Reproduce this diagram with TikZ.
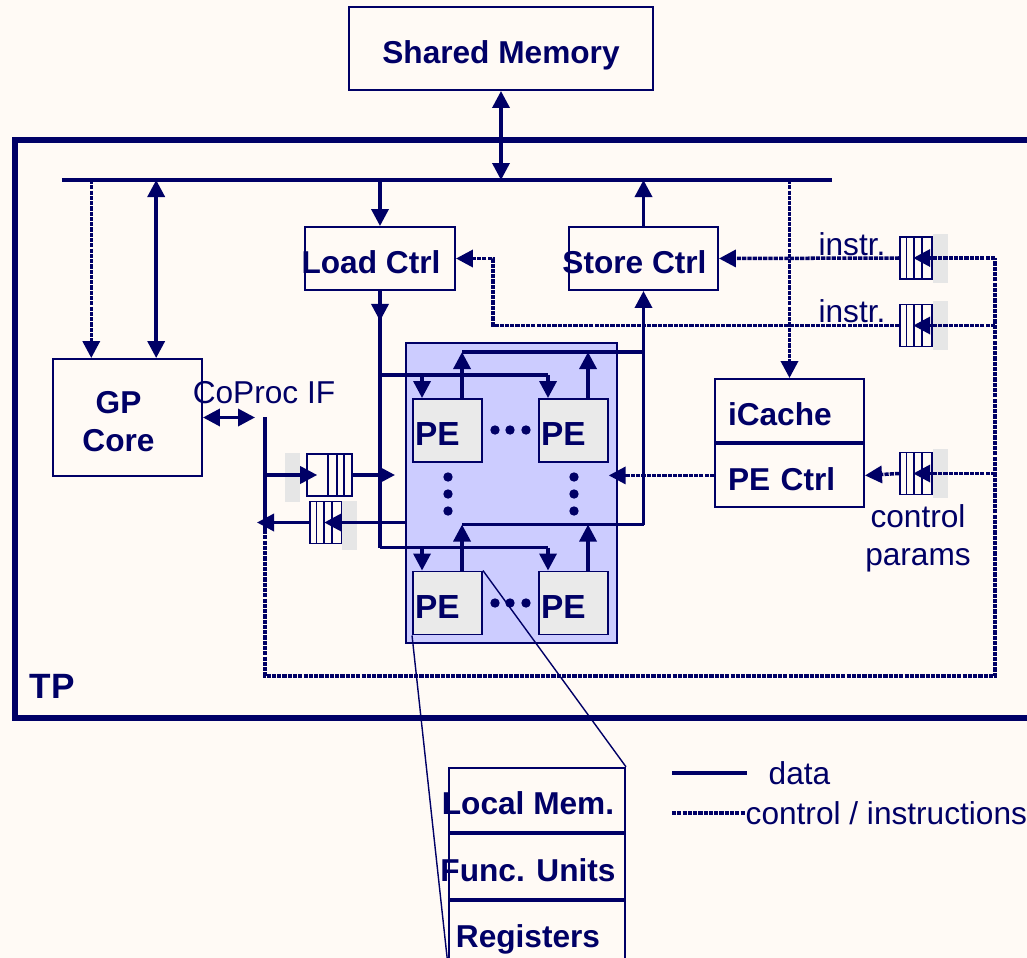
\documentclass[tikz,border=0pt]{standalone}
\usepackage{fontspec}
\setmainfont{Liberation Sans}
\usetikzlibrary{positioning, arrows.meta, calc, decorations.markings}
\definecolor{navy}{RGB}{0,0,102}
\definecolor{paper}{RGB}{255,250,245}
\definecolor{lav}{RGB}{204,204,255}
\definecolor{peg}{RGB}{234,234,234}
\definecolor{holdg}{RGB}{230,230,230}
\newcommand\ninept{\fontsize{9}{10.8}\selectfont}
\tikzset{
  box/.style      ={draw=navy, line width=0.55pt, fill=paper, text=navy,
                    font=\ninept\bfseries, inner sep=0pt,
                    text height=8.4pt, text depth=0pt,
                    minimum width=1.49cm, minimum height=0.63cm},
  shift text/.style={execute at begin node=\hspace*{-1.8mm}},
  pe/.style       ={draw=navy, line width=0.55pt, fill=peg, text=navy,
                    font=\fontsize{9.5}{11}\selectfont\bfseries,
                    inner xsep=0.2mm, inner ysep=0pt, text width=0.65cm,
                    text height=8.6pt, text depth=0pt,
                    align=left, minimum height=0.63cm},
  peblock/.style  ={draw=navy, line width=0.4pt, fill=lav, inner sep=0pt,
                    minimum width=2.11cm, minimum height=3.0cm},
  fifo/.style     ={draw=navy, line width=0.45pt, fill=paper, inner sep=0pt,
                    minimum width=0.32cm, minimum height=0.42cm},
  fifoL/.style    ={fifo, path picture={
                      \foreach \d in {0.065,0.14,0.22}
                        \draw[navy, line width=0.45pt]
                          ([xshift=\d cm]path picture bounding box.south west) --
                          ([xshift=\d cm]path picture bounding box.north west);}},
  fifoR/.style    ={fifo, minimum width=0.45cm, path picture={
                      \foreach \d in {0.08,0.15,0.24}
                        \draw[navy, line width=0.45pt]
                          ([xshift=-\d cm]path picture bounding box.south east) --
                          ([xshift=-\d cm]path picture bounding box.north east);}},
  hold/.style     ={fill=holdg, inner sep=0pt,
                    minimum width=0.15cm, minimum height=0.49cm},
  tag/.style      ={text=navy, font=\ninept, inner sep=0pt},
  data/.style     ={draw=navy, line width=1.0pt},
  ctrl/.style     ={data, dash pattern=on 1.2pt off 0.3pt},
  frame/.style    ={draw=navy, line width=1.7pt},
  zoomline/.style ={draw=navy, line width=0.4pt},
  mark head/.style={postaction={decorate, decoration={markings,
                      mark=at position 0.3cm with
                      {\arrow{Triangle[length=1.7mm, width=1.7mm]}}}}},
}

\begin{document}
\begin{tikzpicture}[>={Triangle[length=1.7mm, width=1.7mm]}, line join=miter]
\useasboundingbox (0,0) rectangle (10.27,-9.58);
\fill[paper] (0,0) rectangle (10.27,-9.58);
\clip (0,0) rectangle (10.27,-9.58);

% --- TP frame and bus ---
\draw[frame] (10.4,-1.40) -- (0.15,-1.40) -- (0.15,-7.18) -- (10.4,-7.18);
\node[tag, font=\fontsize{10}{12}\selectfont\bfseries] (tp) at (0.52,-6.86) {TP};
\coordinate (busW) at (0.62,-1.80);
\coordinate (busE) at (8.32,-1.80);
\coordinate (cpTop) at (2.65,-4.17);
\coordinate (cpMid) at (2.65,-5.30);
\coordinate (cpBot) at (2.65,-6.76);
\coordinate (rvTop) at (9.95,-2.58);
\coordinate (rvBot) at (9.95,-6.76);
\coordinate (lcTurn) at (4.93,-3.0);
\coordinate (ldIn) at (3.95,-4.75);

% --- boxes ---
\node[box, minimum width=3.04cm, minimum height=0.83cm] (mem) at (5.01,-0.485) {Shared Memory};
\node[box, minimum height=1.17cm, align=center, text height=, text depth=]
  (gp) at (1.275,-4.175)
  {\hspace*{-1.8mm}\rule{0pt}{3.1mm}GP\\\hspace*{-1.8mm}Core};
\node[tag] (cpif) at (2.64,-3.93) {CoProc IF};
\node[box, shift text, minimum width=1.50cm] (lc) at (3.80,-2.585) {Load Ctrl};
\node[box, shift text] (sc) at (6.435,-2.585) {Store Ctrl};
\node[box, text width=1.23cm, align=left] (ic) at (7.895,-4.105) {iCache};
\node[box, text width=1.23cm, align=left, below=0pt of ic] (pc) {PE Ctrl};

% --- PE array ---
\node[peblock] (arr) at (5.115,-4.93) {};
\node[pe] (pea) at (4.475,-4.305) {PE};
\node[pe] (peb) at (5.735,-4.305) {PE};
\node[pe] (pec) at (4.475,-6.03) {PE};
\node[pe] (ped) at (5.735,-6.03) {PE};
\foreach \y in {-4.30,-6.03}
  \foreach \x in {4.95,5.10,5.26} \fill[navy] (\x,\y) circle (0.047);
\foreach \x in {4.48,5.74}
  \foreach \y in {-4.77,-4.94,-5.11} \fill[navy] (\x,\y) circle (0.047);

% --- fifos ---
\node[hold] (q1h) at (2.925,-4.775) {};
\node[fifoR] (q1) at (3.295,-4.75) {};
\node[fifoL] (q2) at (3.26,-5.225) {};
\node[hold] (q2h) at (3.495,-5.25) {};
\node[fifoL] (qs) at (9.16,-2.58) {};
\node[hold, right=0pt of qs] (qsh) {};
\node[fifoL] (ql) at (9.16,-3.255) {};
\node[hold, right=0pt of ql] (qlh) {};
\node[fifoL] (qp) at (9.16,-4.735) {};
\node[hold, right=0pt of qp] (qph) {};
\node[tag] (ins1) at (8.52,-2.44) {instr.};
\node[tag] (ins2) at (8.52,-3.11) {instr.};
\node[tag, align=center] (cpar) at (9.18,-5.38) {control\\params};

% --- bus connections ---
\draw[data] (busW) -- (busE);
\draw[data,<->] (mem.south) -- (mem.south |- busW);
\coordinate (gpC) at ($(gp.north west)!0.26!(gp.north east)$);
\coordinate (gpD) at ($(gp.north west)!0.69!(gp.north east)$);
\draw[ctrl,->] (gpC |- busW) -- (gpC);
\draw[data,<->] (gpD |- busW) -- (gpD);
\draw[data,->] (lc.north |- busW) -- (lc.north);
\draw[data,->] (sc.north) -- (sc.north |- busW);
\draw[ctrl,->] (ic.north |- busW) -- (ic.north);

% --- coprocessor interface ---
\draw[data,<->,shorten >=1mm] (gp.east) -- (cpTop |- gp.east);
\draw[data] (cpTop) -- (cpMid);
\draw[ctrl] (cpMid) -- (cpBot) -- (rvBot) -- (rvTop);
\draw[data,->] (cpTop |- q1) -- ([xshift=1.1mm]q1.west);
\draw[data,->] (q1.east) -- (ldIn);
\draw[data,->] (arr.west |- q2) -- ([xshift=1.5mm]q2.west);
\draw[data,->] (q2.west) -- ($(cpTop |- q2)+(-0.08,0)$);

% --- load / store paths through the PE array ---
\foreach \lft/\rgt in {pea/peb, pec/ped} {
  \coordinate (\lft-in)  at ($(\lft.north west)+(0.10,0.23)$);
  \coordinate (\rgt-in)  at ($(\rgt.north west)+(0.10,0.23)$);
  \coordinate (\lft-out) at ($(\lft.north west)+(0.50,0.46)$);
  \coordinate (\rgt-out) at ($(\rgt.north west)+(0.50,0.46)$);
  \draw[data] (lc.south |- \lft-in) -- (\rgt-in);
  \draw[data] (\lft-out) -- (sc.south |- \lft-out);
  \foreach \p in {\lft,\rgt} {
    \draw[data,->] (\p-in) -- (\p-in |- \p.north);
    \draw[data,->] (\p-out |- \p.north) -- (\p-out);
  }
}
\draw[data, mark head] (lc.south) -- (lc.south |- pec-in);
\draw[data,->] (sc.south |- pec-out) -- (sc.south);

% --- instruction and control paths ---
\foreach \q in {qs,ql,qp}
  \draw[ctrl,->] (rvTop |- \q) -- ([xshift=1.4mm]\q.west);
\draw[ctrl,->] (qs.west) -- (sc.east);
\draw[ctrl,->] (ql.west) -- (ql.west -| lcTurn) |- (lc.east);
\draw[ctrl,->] (qp.west) -- (pc.east);
\draw[ctrl,->] (pc.west) -- ($(arr.east |- pc)+(-0.09,0)$);

% --- PE detail ---
\node[box, shift text, minimum width=1.76cm, minimum height=0.645cm] (lm) at (5.37,-8.0) {Local Mem.};
\node[box, shift text, minimum width=1.76cm, minimum height=0.645cm, below=0pt of lm] (fu) {Func. Units};
\node[box, shift text, minimum width=1.76cm, minimum height=0.645cm, below=0pt of fu] (rg) {Registers};
\draw[zoomline] (pec.north east) -- (lm.north east);
\draw[zoomline] (pec.south west) -- (rg.south west);

% --- legend ---
\coordinate (legA) at (6.72,-7.73);
\coordinate (legB) at (7.47,-7.73);
\coordinate (legC) at (6.72,-8.13);
\coordinate (legD) at (7.45,-8.13);
\draw[data] (legA) -- (legB);
\draw[ctrl] (legC) -- (legD);
\node[tag, anchor=west, right=2.1mm of legB] (legData) {data};
\node[tag, anchor=west, right=0mm of legD] (legCtrl) {control / instructions};

\end{tikzpicture}
\end{document}
